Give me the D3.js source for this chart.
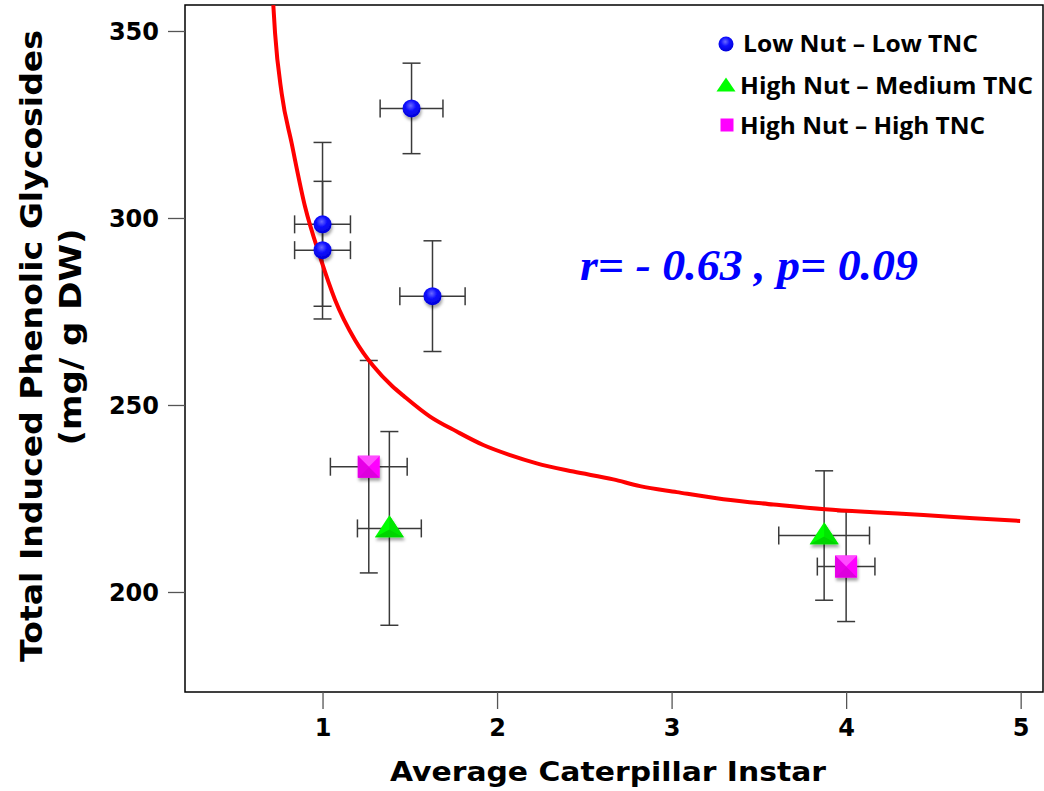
<!DOCTYPE html>
<html>
<head>
<meta charset="utf-8">
<script src="https://cdn.jsdelivr.net/npm/d3@7/dist/d3.min.js"></script>
<style>
  html, body { margin: 0; padding: 0; background: #fff; }
  svg { display: block; }
</style>
</head>
<body>
<svg id="chart" width="1044" height="791"></svg>
<script>
// ---------------- data ----------------
const seriesNames = ["Low Nut \u2013 Low TNC", "High Nut \u2013 Medium TNC", "High Nut \u2013 High TNC"];

// Low Nut – Low TNC (circles)
const lowX    = [1.51, 1.00, 1.00, 1.63];
const lowY    = [329.3, 298.3, 291.4, 279.1];
const lowXErr = [0.18, 0.16, 0.16, 0.187];
const lowYErr = [12.1, 21.9, 18.4, 14.8];

// High Nut – Medium TNC (triangles)
const medX    = [1.383, 3.874];
const medY    = [217.0, 215.1];
const medXErr = [0.183, 0.26];
const medYErr = [25.9, 17.3];

// High Nut – High TNC (squares)
const highX    = [1.265, 4.00];
const highY    = [233.5, 206.8];
const highXErr = [0.22, 0.165];
const highYErr = [28.4, 14.7];

// fitted curve
const curveX = [0.718, 0.728, 0.766, 0.823, 0.900, 0.986, 1.072, 1.186, 1.291, 1.400, 1.463, 1.616, 1.769, 1.921, 2.075, 2.227, 2.437, 2.666, 2.819, 3.030, 3.297, 3.583, 3.880, 4.156, 4.443, 4.730, 4.997];
const curveY = [356.9, 349.4, 333.3, 320.0, 303.0, 289.6, 278.1, 267.4, 260.4, 255.0, 252.5, 246.9, 242.9, 239.3, 236.6, 234.4, 232.2, 230.1, 228.3, 226.7, 224.8, 223.4, 222.1, 221.3, 220.6, 219.7, 219.0];

const xTicks = [1, 2, 3, 4, 5];
const yTicks = [200, 250, 300, 350];

const xTitle = "Average Caterpillar Instar";
const yTitle1 = "Total Induced Phenolic Glycosides";
const yTitle2 = "(mg/ g DW)";
const statText = "r= - 0.63 , p= 0.09";

// ---------------- layout ----------------
const svg = d3.select("#chart");
const L = 185, R = 1043, T = 5, B = 692;
const x = d3.scaleLinear().domain([0.212, 5.128]).range([L, R]);
const y = d3.scaleLinear().domain([173.26, 356.95]).range([B, T]);

const defs = svg.append("defs");
const sh = defs.append("filter").attr("id", "shadow").attr("x", "-50%").attr("y", "-50%").attr("width", "200%").attr("height", "200%");
sh.append("feDropShadow").attr("dx", 1).attr("dy", 3).attr("stdDeviation", 1.8).attr("flood-color", "#000").attr("flood-opacity", 0.35);

const gBlue = defs.append("radialGradient").attr("id", "gBlue").attr("cx", "45%").attr("cy", "35%").attr("r", "65%");
gBlue.append("stop").attr("offset", "0%").attr("stop-color", "#6a6aff");
gBlue.append("stop").attr("offset", "45%").attr("stop-color", "#1010ff");
gBlue.append("stop").attr("offset", "100%").attr("stop-color", "#0000d8");

const clip = defs.append("clipPath").attr("id", "plotClip");
clip.append("rect").attr("x", L).attr("y", T).attr("width", R - L).attr("height", B - T);

// frame
svg.append("rect").attr("x", L).attr("y", T).attr("width", R - L).attr("height", B - T)
  .attr("fill", "none").attr("stroke", "#000").attr("stroke-width", 1.5);

// axes
const xAxis = svg.append("g").attr("transform", `translate(0,${B})`)
  .call(d3.axisBottom(x).tickValues(xTicks).tickSize(17).tickPadding(10).tickFormat(d3.format("d")));
const yAxis = svg.append("g").attr("transform", `translate(${L},0)`)
  .call(d3.axisLeft(y).tickValues(yTicks).tickSize(17).tickPadding(9).tickFormat(d3.format("d")));
[xAxis, yAxis].forEach(g => {
  g.select(".domain").remove();
  g.selectAll(".tick line").attr("stroke", "#555").attr("stroke-width", 1.3);
  g.selectAll(".tick text").attr("fill", "#000")
    .style("font-family", "'DejaVu Sans', Verdana, sans-serif")
    .style("font-weight", "bold").style("font-size", "24px");
});
xAxis.selectAll(".tick text").attr("dy", "0.71em");
yAxis.selectAll(".tick text").attr("dy", "0.36em");

// axis titles
const titleFont = "'DejaVu Sans', Verdana, sans-serif";
svg.append("text").attr("x", (390 + 826) / 2).attr("y", 781).attr("text-anchor", "middle")
  .attr("textLength", 436).attr("lengthAdjust", "spacingAndGlyphs")
  .style("font-family", titleFont).style("font-weight", "bold")
  .style("font-size", "26.5px").text(xTitle);
svg.append("text").attr("transform", "translate(42,346) rotate(-90)").attr("text-anchor", "middle")
  .attr("textLength", 632).attr("lengthAdjust", "spacingAndGlyphs")
  .style("font-family", titleFont).style("font-weight", "bold")
  .style("font-size", "31px").text(yTitle1);
svg.append("text").attr("transform", "translate(81,337) rotate(-90)").attr("text-anchor", "middle")
  .attr("textLength", 217).attr("lengthAdjust", "spacingAndGlyphs")
  .style("font-family", titleFont).style("font-weight", "bold")
  .style("font-size", "31px").text(yTitle2);

// ---------------- error bars ----------------
const toPts = (xs, ys, xe, ye) => xs.map((v, i) => ({ x: v, y: ys[i], xe: xe[i], ye: ye[i] }));
const lowPts = toPts(lowX, lowY, lowXErr, lowYErr);
const medPts = toPts(medX, medY, medXErr, medYErr);
const highPts = toPts(highX, highY, highXErr, highYErr);
const allPts = lowPts.concat(medPts, highPts);

const cap = 9;
const eb = svg.append("g").attr("stroke", "#3a3a3a").attr("stroke-width", 1.5).attr("fill", "none");
allPts.forEach(p => {
  const cx = x(p.x), cy = y(p.y);
  const y0 = y(p.y - p.ye), y1 = y(p.y + p.ye);
  const x0 = x(p.x - p.xe), x1 = x(p.x + p.xe);
  eb.append("line").attr("x1", cx).attr("x2", cx).attr("y1", y0).attr("y2", y1);
  eb.append("line").attr("x1", cx - cap).attr("x2", cx + cap).attr("y1", y0).attr("y2", y0);
  eb.append("line").attr("x1", cx - cap).attr("x2", cx + cap).attr("y1", y1).attr("y2", y1);
  eb.append("line").attr("x1", x0).attr("x2", x1).attr("y1", cy).attr("y2", cy);
  eb.append("line").attr("x1", x0).attr("x2", x0).attr("y1", cy - cap).attr("y2", cy + cap);
  eb.append("line").attr("x1", x1).attr("x2", x1).attr("y1", cy - cap).attr("y2", cy + cap);
});

// ---------------- curve ----------------
const curvePts = curveX.map((v, i) => [v, curveY[i]]);
svg.append("path").datum(curvePts).attr("clip-path", "url(#plotClip)")
  .attr("d", d3.line().x(d => x(d[0])).y(d => y(d[1])).curve(d3.curveMonotoneX))
  .attr("fill", "none").attr("stroke", "#ff0000").attr("stroke-width", 4);

// ---------------- markers ----------------
function drawCircle(g, cx, cy, r, shadow) {
  g.append("circle").attr("cx", cx).attr("cy", cy).attr("r", r)
    .attr("fill", "url(#gBlue)").attr("filter", shadow ? "url(#shadow)" : null);
}
function drawTri(g, cx, cy, w, h, shadow) {
  const top = cy - h * 0.6, bot = cy + h * 0.4;
  const gg = g.append("g").attr("filter", shadow ? "url(#shadow)" : null);
  gg.append("path").attr("d", `M${cx},${top}L${cx + w / 2},${bot}L${cx - w / 2},${bot}Z`).attr("fill", "#00ff00");
  if (shadow) {
    gg.append("path").attr("d", `M${cx},${top}L${cx + w / 2},${bot}L${cx},${cy + h * 0.05}Z`).attr("fill", "#00e600");
    gg.append("path").attr("d", `M${cx - w / 2},${bot}L${cx + w / 2},${bot}L${cx},${cy + h * 0.05}Z`).attr("fill", "#00d400");
  }
}
function drawSq(g, cx, cy, s, shadow) {
  const gg = g.append("g").attr("filter", shadow ? "url(#shadow)" : null);
  const x0 = cx - s / 2, y0 = cy - s / 2, x1 = cx + s / 2, y1 = cy + s / 2;
  gg.append("rect").attr("x", x0).attr("y", y0).attr("width", s).attr("height", s).attr("fill", "#ff00ff");
  if (shadow) {
    gg.append("path").attr("d", `M${x0},${y0}L${x1},${y0}L${cx},${cy}Z`).attr("fill", "#ff4dff");
    gg.append("path").attr("d", `M${x0},${y0}L${x0},${y1}L${cx},${cy}Z`).attr("fill", "#e600e6");
    gg.append("path").attr("d", `M${x0},${y1}L${x1},${y1}L${cx},${cy}Z`).attr("fill", "#dd00dd");
  }
}

const mk = svg.append("g");
lowPts.forEach(p => drawCircle(mk, x(p.x), y(p.y), 9, true));
medPts.forEach(p => drawTri(mk, x(p.x), y(p.y), 29, 22, true));
highPts.forEach(p => drawSq(mk, x(p.x), y(p.y), 22, true));

// ---------------- legend ----------------
const leg = svg.append("g");
const legY = [52, 94, 134];
const legX = [743, 740, 740];
const legW = [235, 293, 245];
const legFont = "'Open Sans', Lato, sans-serif";
drawCircle(leg, 726, 44, 7.5, false);
drawTri(leg, 726, 86, 19, 14, false);
drawSq(leg, 727, 125, 13, false);
seriesNames.forEach((s, i) => {
  leg.append("text").attr("x", legX[i]).attr("y", legY[i])
    .attr("textLength", legW[i]).attr("lengthAdjust", "spacingAndGlyphs")
    .style("font-family", legFont).style("font-weight", "bold").style("font-size", "23px")
    .attr("fill", "#000").text(s);
});

// ---------------- statistic annotation ----------------
svg.append("text").attr("x", 580).attr("y", 280).attr("fill", "#0000ff")
  .attr("textLength", 338).attr("lengthAdjust", "spacingAndGlyphs")
  .style("font-family", "'Liberation Serif', 'Times New Roman', serif")
  .style("font-weight", "bold").style("font-style", "italic").style("font-size", "45px")
  .text(statText);
</script>
</body>
</html>
